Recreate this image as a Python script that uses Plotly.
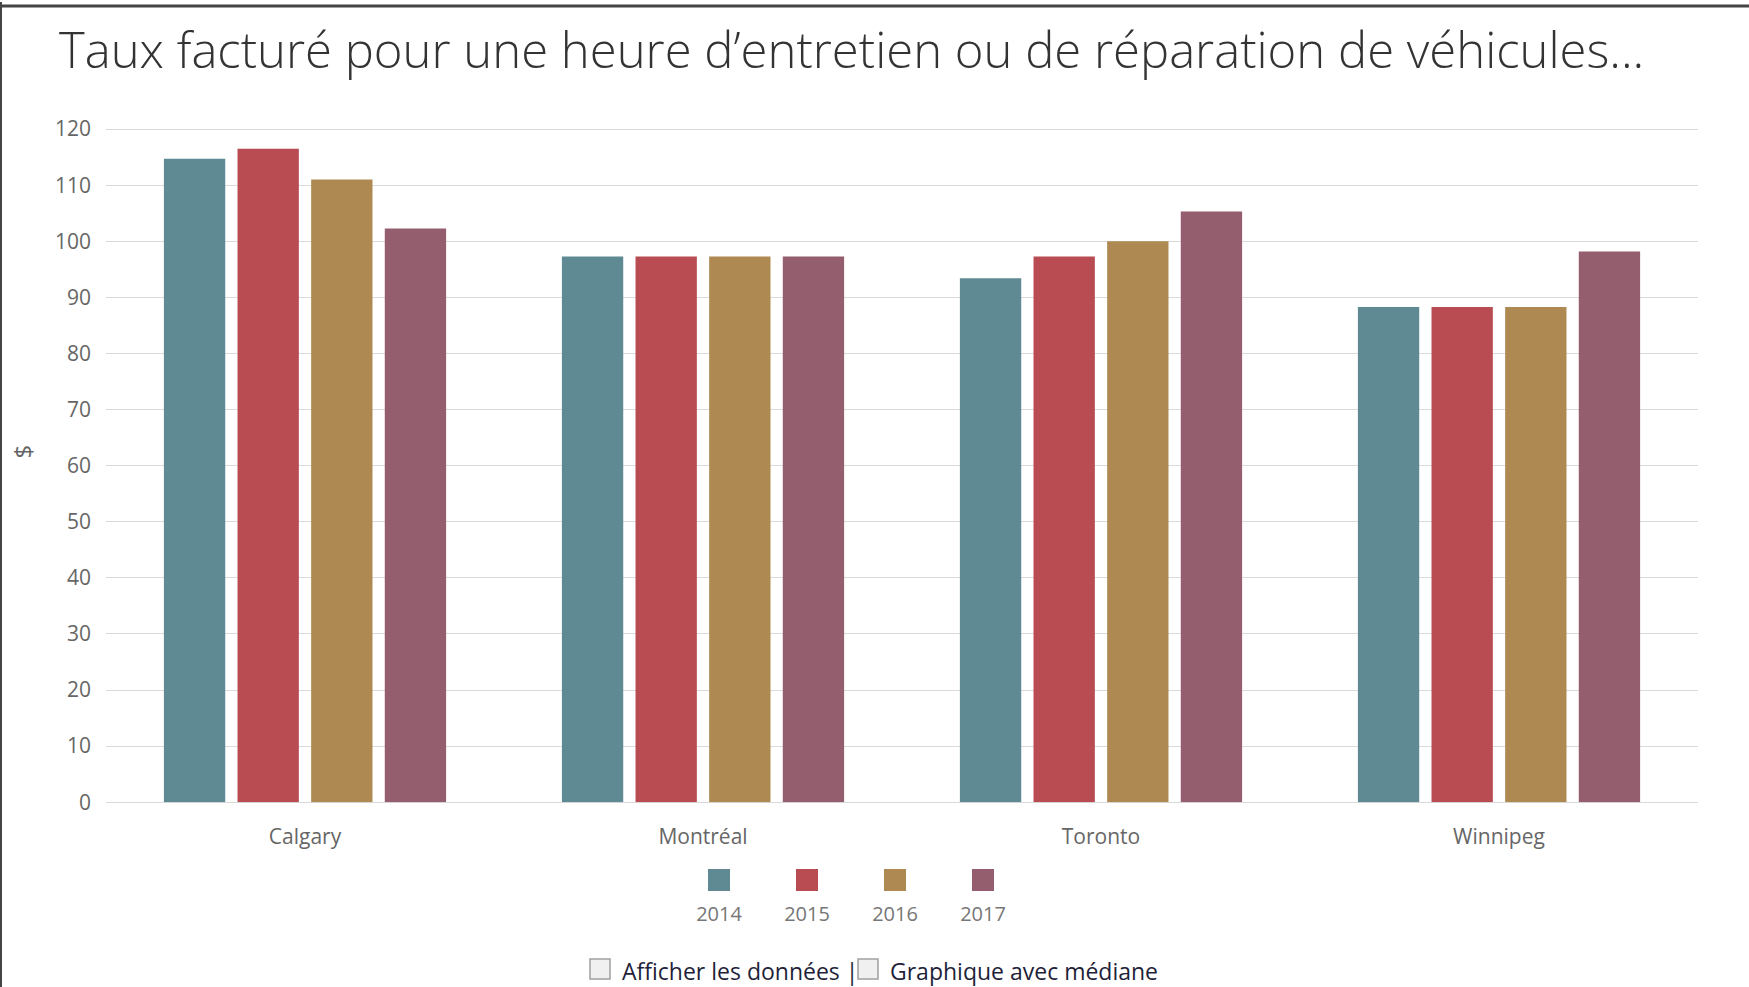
import plotly.graph_objects as go

cities = ['Calgary', 'Montréal', 'Toronto', 'Winnipeg']
years = ['2014', '2015', '2016', '2017']
rate_2014 = [114.7, 97.3, 93.4, 88.3]
rate_2015 = [116.5, 97.3, 97.3, 88.3]
rate_2016 = [111.0, 97.3, 100.0, 88.3]
rate_2017 = [102.3, 97.3, 105.3, 98.2]
y_ticks = list(range(0, 121, 10))

colors = ['#5f8a93', '#b94c52', '#ae8951', '#955e6f']
series = [rate_2014, rate_2015, rate_2016, rate_2017]

# page seems to be photographed a bit taller than the figure, so lay out on a slightly taller canvas
W, H0 = 1749, 987
H = 1001
K = H / H0
L, R = 106, 51
T, B = round(126.5 * K), 0
pw, ph = W - L - R, H - T - B


def px(x):
    return (x - L) / pw


def py(y):
    return (H - y * K) / ph


fig = go.Figure()
for yr, vals, c in zip(years, series, colors):
    fig.add_trace(go.Bar(x=cities, y=vals, name=yr, marker_color=c, marker_line_width=0, showlegend=False))

# legend drawn as squares above labels, on its own axes
fig.add_trace(go.Scatter(x=years, y=[879] * 4, mode='markers', xaxis='x2', yaxis='y2', showlegend=False,
                         marker=dict(symbol='square', size=22, color=colors), hoverinfo='skip'))
fig.add_trace(go.Scatter(x=years, y=[915] * 4, mode='text', text=years, xaxis='x2', yaxis='y2', showlegend=False,
                         textfont=dict(family='Open Sans', size=20, color='#777777'), hoverinfo='skip'))

lo = -(719 - L) / 88.0
fig.update_layout(
    width=W, height=H, margin=dict(l=L, r=R, t=T, b=B),
    paper_bgcolor='white', plot_bgcolor='white',
    bargap=0.26, bargroupgap=0.167,
    title=dict(text='Taux facturé pour une heure d’entretien ou de réparation de véhicules...',
               x=59 / W, xref='container', xanchor='left', y=1 - 50 / H0, yref='container', yanchor='middle',
               font=dict(family='Open Sans', size=49, weight=300, color='#333333')),
    xaxis=dict(showgrid=False, showline=False, ticks='', tickfont=dict(family='Open Sans', size=21, color='#666666'),
               ticklabelstandoff=20, domain=[0, 1]),
    yaxis=dict(range=[0, 120.2], tickvals=y_ticks, showgrid=True, gridcolor='#dadada', gridwidth=1,
               zeroline=True, zerolinecolor='#dadada', zerolinewidth=1, showline=False,
               tickfont=dict(family='Open Sans', size=21, color='#666666'), ticklabelstandoff=14,
               domain=[py(801), 1]),
    xaxis2=dict(range=[lo, lo + pw / 88.0], visible=False, anchor='y2', type='category',
                categoryorder='array', categoryarray=years),
    yaxis2=dict(range=[H0, 850], visible=False, domain=[0, py(850)], anchor='x2'),
    font=dict(family='Open Sans'),
)

fig.add_annotation(text='$', textangle=-90, x=px(22), y=py(450), xref='paper', yref='paper', showarrow=False,
                   xanchor='center', yanchor='middle',
                   font=dict(family='Open Sans', size=24, color='#666666'))

fig.add_annotation(text='Afficher les données |', x=px(620), y=py(970), xref='paper', yref='paper',
                   xanchor='left', yanchor='middle', showarrow=False,
                   font=dict(family='Open Sans', size=23, color='#1f1f3a'))
fig.add_annotation(text='Graphique avec médiane', x=px(888), y=py(970), xref='paper', yref='paper',
                   xanchor='left', yanchor='middle', showarrow=False,
                   font=dict(family='Open Sans', size=23, color='#1f1f3a'))
for cx in [590, 858]:
    fig.add_shape(type='rect', xref='paper', yref='paper', x0=px(cx), x1=px(cx + 20), y0=py(978), y1=py(958),
                  line=dict(color='#a0a0a0', width=1.5), fillcolor='#f0f0f0')

# frame lines on top and left
fig.add_shape(type='line', xref='paper', yref='paper', x0=px(0), x1=px(W), y0=py(4), y1=py(4),
              line=dict(color='#444444', width=3))
fig.add_shape(type='line', xref='paper', yref='paper', x0=px(1), x1=px(1), y0=0, y1=py(0),
              line=dict(color='#444444', width=2))

fig.write_html('out.html', config={'displayModeBar': False},
               post_script="document.body.style.margin='0';document.body.style.overflow='hidden';")
